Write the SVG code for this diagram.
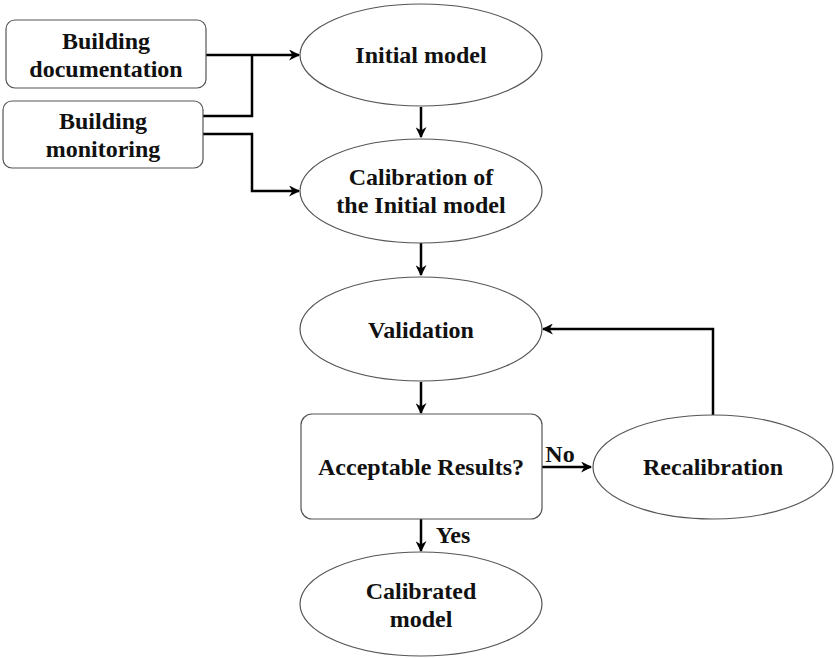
<svg xmlns="http://www.w3.org/2000/svg" width="835" height="658" viewBox="0 0 835 658">
  <style>
    .shape { fill: #ffffff; stroke: #555555; stroke-width: 1.2; }
    .label { font-family: "Liberation Serif", "Times New Roman", serif; font-weight: bold; font-size: 24px; fill: #111111; text-anchor: middle; }
    .edge { fill: none; stroke: #000000; stroke-width: 2.5; marker-end: url(#arrow); }
    .line { fill: none; stroke: #000000; stroke-width: 2.5; }
  </style>
  <defs>
    <marker id="arrow" viewBox="0 0 10 10" refX="9" refY="5" markerWidth="4.4" markerHeight="4.4" orient="auto" markerUnits="strokeWidth">
      <path d="M0,0 L10,5 L0,10 L3,5 Z" fill="#000000"/>
    </marker>
  </defs>
  <rect width="835" height="658" fill="#ffffff"/>

  <!-- connectors -->
  <g id="connectors">
    <path class="edge" d="M206,55 H299"/>
    <path class="line" d="M203,116 H252 V55"/>
    <path class="edge" d="M203,134 H252 V191 H299"/>
    <path class="edge" d="M421,107 V137"/>
    <path class="edge" d="M421,243 V275"/>
    <path class="edge" d="M421,382 V413"/>
    <path class="edge" d="M542,467 H591"/>
    <path class="edge" d="M713,415 V329 H543"/>
    <path class="edge" d="M421,519 V551"/>
    <text class="label" x="560" y="462">No</text>
    <text class="label" x="453" y="543">Yes</text>
  </g>

  <g id="building-documentation">
    <rect class="shape" x="6" y="20" width="200" height="68" rx="9"/>
    <text class="label" x="106" y="49">Building</text>
    <text class="label" x="106" y="77">documentation</text>
  </g>

  <g id="building-monitoring">
    <rect class="shape" x="3" y="101" width="200" height="67" rx="9"/>
    <text class="label" x="103" y="129">Building</text>
    <text class="label" x="103" y="157">monitoring</text>
  </g>

  <g id="initial-model">
    <ellipse class="shape" cx="421" cy="55" rx="121" ry="51"/>
    <text class="label" x="421" y="63">Initial model</text>
  </g>

  <g id="calibration">
    <ellipse class="shape" cx="421" cy="191" rx="121" ry="52"/>
    <text class="label" x="421" y="185">Calibration of</text>
    <text class="label" x="421" y="213">the Initial model</text>
  </g>

  <g id="validation">
    <ellipse class="shape" cx="421" cy="329" rx="121" ry="52"/>
    <text class="label" x="421" y="338">Validation</text>
  </g>

  <g id="acceptable-results">
    <rect class="shape" x="301" y="414" width="241" height="105" rx="11"/>
    <text class="label" x="421" y="475">Acceptable Results?</text>
  </g>

  <g id="recalibration">
    <ellipse class="shape" cx="713" cy="467" rx="120" ry="52"/>
    <text class="label" x="713" y="475">Recalibration</text>
  </g>

  <g id="calibrated-model">
    <ellipse class="shape" cx="421" cy="604" rx="121" ry="52"/>
    <text class="label" x="421" y="599">Calibrated</text>
    <text class="label" x="421" y="627">model</text>
  </g>
</svg>
